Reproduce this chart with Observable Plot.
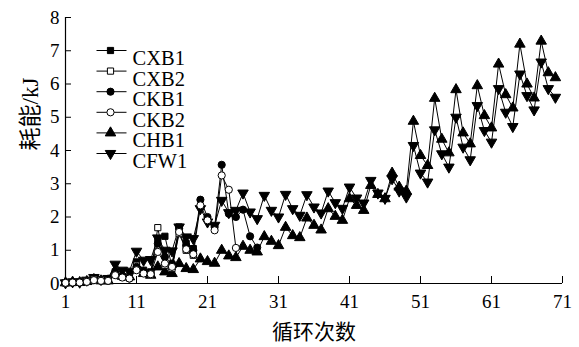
<!DOCTYPE html>
<html>
<head>
<meta charset="utf-8">
<script src="https://cdn.jsdelivr.net/npm/d3@7"></script>
<script src="https://cdn.jsdelivr.net/npm/@observablehq/plot@0.6"></script>
<style>
  html, body { margin: 0; padding: 0; background: #fff; }
</style>
</head>
<body>
<div id="chart"></div>
<script>
// Energy dissipated (kJ) in each loading cycle, per specimen
const seriesNames = ["CXB1", "CXB2", "CKB1", "CKB2", "CHB1", "CFW1"];

const cxb1 = [0.02, 0.03, 0.05, 0.08, 0.15, 0.12, 0.10, 0.35, 0.22, 0.20,
              0.65, 0.40, 0.35, 1.35, 1.42, 0.50, 1.70, 1.20, 1.05];
const cxb2 = [0.02, 0.03, 0.05, 0.08, 0.13, 0.12, 0.10, 0.30, 0.20, 0.18,
              0.55, 0.35, 0.30, 1.68, 0.55, 0.45, 1.50, 1.00, 0.85];
const ckb1 = [0.02, 0.03, 0.03, 0.05, 0.10, 0.08, 0.08, 0.30, 0.20, 0.15,
              0.50, 0.35, 0.30, 1.20, 0.80, 0.60, 1.65, 1.14, 1.00, 2.52,
              2.00, 1.70, 3.57, 2.10, 2.00, 2.22, 1.42, 1.08];
const ckb2 = [0.02, 0.03, 0.03, 0.05, 0.10, 0.08, 0.08, 0.25, 0.18, 0.15,
              0.40, 0.30, 0.28, 0.95, 0.60, 0.50, 1.55, 1.03, 0.88, 2.35,
              1.90, 1.60, 3.25, 2.82, 1.07];
const chb1 = [0.02, 0.04, 0.03, 0.06, 0.12, 0.08, 0.08, 0.34, 0.22, 0.20,
              0.45, 0.30, 0.25, 0.50, 0.35, 0.30, 0.60, 0.45, 0.42, 0.74,
              0.66, 0.61, 1.00, 0.83, 0.78, 1.12, 1.00, 0.95, 1.41, 1.27,
              1.14, 1.69, 1.44, 1.38, 1.97, 1.75, 1.61, 2.25, 2.02, 1.90,
              2.55, 2.35, 2.20, 2.95, 2.68, 2.55, 3.32, 2.90, 2.78, 4.88,
              3.85, 3.55, 5.57, 4.34, 3.93, 5.83, 4.53, 4.20, 5.95, 5.05,
              4.68, 6.60, 5.68, 5.28, 7.20, 6.00, 5.58, 7.29, 6.34, 6.19];
const cfw1 = [0.02, 0.05, 0.04, 0.10, 0.18, 0.12, 0.15, 0.58, 0.40, 0.37,
              0.97, 0.70, 0.72, 1.37, 1.00, 0.98, 1.70, 1.40, 1.35, 2.25,
              1.85, 1.75, 2.50, 2.13, 2.20, 2.72, 2.15, 1.95, 2.65, 2.20,
              2.00, 2.68, 2.25, 2.05, 2.67, 2.30, 2.12, 2.78, 2.43, 2.26,
              2.90, 2.57, 2.42, 3.10, 2.72, 2.56, 3.15, 2.78, 2.60, 4.15,
              3.32, 3.05, 4.62, 3.90, 3.50, 5.00, 4.10, 3.72, 5.35, 4.60,
              4.25, 5.86, 5.15, 4.72, 6.30, 5.65, 5.22, 6.66, 5.86, 5.60];

const xTicks = [1, 11, 21, 31, 41, 51, 61, 71];
const yTicks = [0, 1, 2, 3, 4, 5, 6, 7, 8];
const xLabel = "循环次数";
const yLabel = "耗能/kJ";

// long-format table: one row per (specimen, cycle)
const valuesBySeries = [cxb1, cxb2, ckb1, ckb2, chb1, cfw1];
const rows = seriesNames.flatMap((name, i) =>
  valuesBySeries[i].map((v, j) => ({series: name, cycle: j + 1, energy: v})));

// marker style of each specimen
const markerStyle = {
  CXB1: {symbol: "square", fill: "black", r: 3.5, rotate: 0},
  CXB2: {symbol: "square", fill: "white", r: 3.5, rotate: 0},
  CKB1: {symbol: "circle", fill: "black", r: 3.6, rotate: 0},
  CKB2: {symbol: "circle", fill: "white", r: 3.6, rotate: 0},
  CHB1: {symbol: "triangle", fill: "black", r: 3.9, rotate: 0},
  CFW1: {symbol: "triangle", fill: "black", r: 3.9, rotate: 180}
};
const drawOrder = ["CFW1", "CHB1", "CXB1", "CXB2", "CKB1", "CKB2"];

// short horizontal stroke used as the legend's line sample
const legendLine = {draw(ctx) { ctx.moveTo(-14, 0); ctx.lineTo(16, 0); }};

const marks = [];

// axis lines
marks.push(Plot.ruleY([0], {stroke: "black", strokeWidth: 1.2}));
marks.push(Plot.ruleX([1], {stroke: "black", strokeWidth: 1.2}));

// axes with inward ticks
marks.push(Plot.axisX({ticks: xTicks, tickSize: -7, tickPadding: 18, fontSize: 19, label: null}));
marks.push(Plot.axisY({ticks: yTicks, tickSize: -6, tickPadding: 12, fontSize: 19, label: null}));

// axis titles
marks.push(Plot.text([yLabel], {frameAnchor: "left", dx: -35, rotate: -90, fontSize: 23, fill: "black"}));
marks.push(Plot.text([xLabel], {frameAnchor: "bottom", dy: 55, fontSize: 21, fill: "black"}));

// connecting lines
marks.push(Plot.line(rows, {x: "cycle", y: "energy", z: "series", stroke: "black", strokeWidth: 1}));

// markers
for (const name of drawOrder) {
  const s = markerStyle[name];
  marks.push(Plot.dot(rows.filter(d => d.series === name), {
    x: "cycle", y: "energy", symbol: s.symbol, r: s.r, rotate: s.rotate,
    fill: s.fill, stroke: "black", strokeWidth: 1
  }));
}

// legend in the upper-left corner of the frame
seriesNames.forEach((name, i) => {
  const s = markerStyle[name];
  const dy = 33 + 20.6 * i;
  marks.push(Plot.dot([name], {frameAnchor: "top-left", dx: 45, dy, symbol: legendLine, fill: "none", stroke: "black", strokeWidth: 1}));
  marks.push(Plot.dot([name], {frameAnchor: "top-left", dx: 45, dy, symbol: s.symbol, r: s.r, rotate: s.rotate, fill: s.fill, stroke: "black", strokeWidth: 1}));
  marks.push(Plot.text([name], {frameAnchor: "top-left", dx: 67, dy, text: d => d, textAnchor: "start", fontSize: 20.5, fill: "black"}));
});

const chart = Plot.plot({
  width: 579,
  height: 347,
  marginLeft: 65,
  marginRight: 17,
  marginTop: 17,
  marginBottom: 64,
  style: {fontFamily: "'Liberation Serif', 'Noto Sans CJK SC', serif", color: "black", background: "white", overflow: "visible"},
  x: {domain: [1, 71]},
  y: {domain: [0, 8]},
  marks
});

document.getElementById("chart").appendChild(chart);
</script>
</body>
</html>
